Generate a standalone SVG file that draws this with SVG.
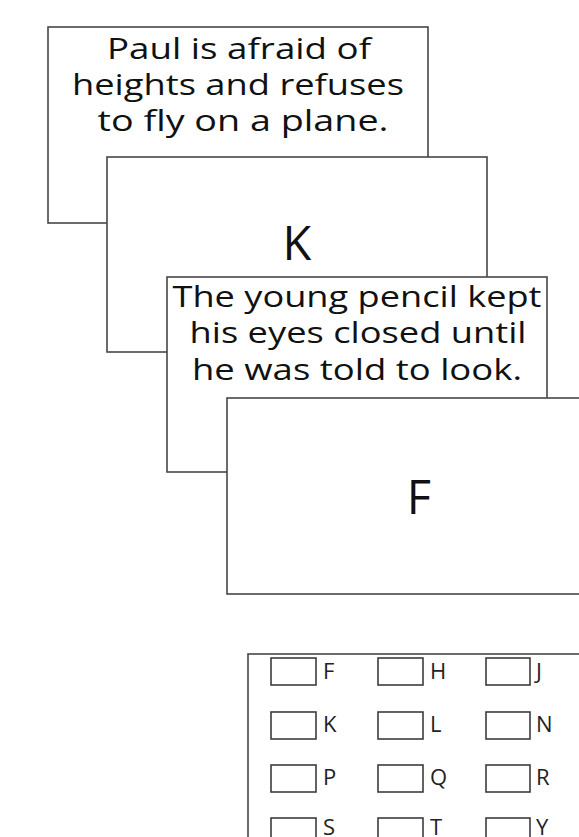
<svg xmlns="http://www.w3.org/2000/svg" width="579" height="837" viewBox="0 0 579 837">
<style>
.card{fill:#fff;stroke:#474747;stroke-width:1.6}
.t{font-family:"Open Sans","Liberation Sans",sans-serif;font-size:29px;fill:#111;text-anchor:middle}
.big{font-family:"Open Sans","Liberation Sans",sans-serif;font-size:47px;fill:#111;text-anchor:middle}
.cb{fill:#fff;stroke:#3c3c3c;stroke-width:1.6}
.l{font-family:"Open Sans","Liberation Sans",sans-serif;font-size:22px;fill:#222}
</style>
<rect width="579" height="837" fill="#fff"/>
<g id="card1">
<rect class="card" x="48" y="27" width="380" height="196"/>
<text class="t" x="239" y="59" textLength="264" lengthAdjust="spacingAndGlyphs">Paul is afraid of</text>
<text class="t" x="238" y="95" textLength="332" lengthAdjust="spacingAndGlyphs">heights and refuses</text>
<text class="t" x="243" y="131" textLength="291" lengthAdjust="spacingAndGlyphs">to fly on a plane.</text>
</g>
<g id="card2">
<rect class="card" x="107" y="157" width="380" height="195"/>
<text class="big" x="297" y="260">K</text>
</g>
<g id="card3">
<rect class="card" x="167" y="277" width="380" height="195"/>
<text class="t" x="357" y="307" textLength="369" lengthAdjust="spacingAndGlyphs">The young pencil kept</text>
<text class="t" x="358" y="343" textLength="337" lengthAdjust="spacingAndGlyphs">his eyes closed until</text>
<text class="t" x="357" y="380" textLength="330" lengthAdjust="spacingAndGlyphs">he was told to look.</text>
</g>
<g id="card4">
<rect class="card" x="227" y="398" width="380" height="196"/>
<text class="big" x="419" y="514">F</text>
</g>
<g id="answers">
<rect class="card" x="248" y="654" width="400" height="300"/>
<g id="opt-F"><rect class="cb" x="271" y="658" width="45" height="27"/><text class="l" x="323" y="679">F</text></g>
<g id="opt-H"><rect class="cb" x="378" y="658" width="45" height="27"/><text class="l" x="430" y="679">H</text></g>
<g id="opt-J"><rect class="cb" x="486" y="658" width="44" height="27"/><text class="l" x="536" y="679">J</text></g>
<g id="opt-K"><rect class="cb" x="271" y="712" width="45" height="27"/><text class="l" x="323" y="732">K</text></g>
<g id="opt-L"><rect class="cb" x="378" y="712" width="45" height="27"/><text class="l" x="430" y="732">L</text></g>
<g id="opt-N"><rect class="cb" x="486" y="712" width="44" height="27"/><text class="l" x="536" y="732">N</text></g>
<g id="opt-P"><rect class="cb" x="271" y="765" width="45" height="27"/><text class="l" x="323" y="785">P</text></g>
<g id="opt-Q"><rect class="cb" x="378" y="765" width="45" height="27"/><text class="l" x="430" y="785">Q</text></g>
<g id="opt-R"><rect class="cb" x="486" y="765" width="44" height="27"/><text class="l" x="536" y="785">R</text></g>
<g id="opt-S"><rect class="cb" x="271" y="818" width="45" height="27"/><text class="l" x="323" y="835">S</text></g>
<g id="opt-T"><rect class="cb" x="378" y="818" width="45" height="27"/><text class="l" x="430" y="835">T</text></g>
<g id="opt-Y"><rect class="cb" x="486" y="818" width="44" height="27"/><text class="l" x="536" y="835">Y</text></g>
</g>
<g id="connectors"/>
</svg>
